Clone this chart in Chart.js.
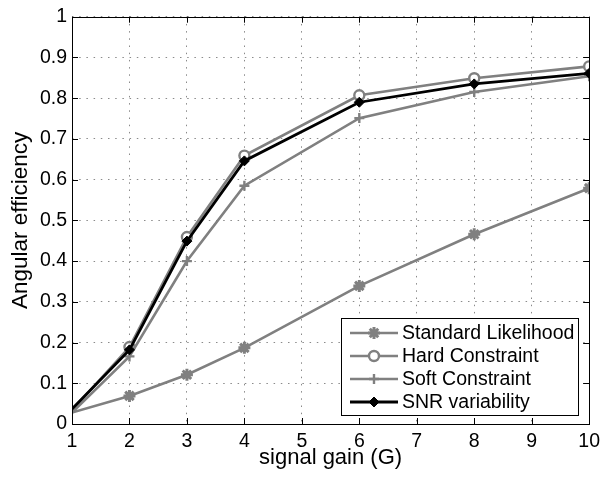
<!DOCTYPE html>
<html>
<head>
<meta charset="utf-8">
<script src="https://cdn.jsdelivr.net/npm/chart.js@4/dist/chart.umd.min.js"></script>
<style>
  html, body { margin: 0; padding: 0; background: #fff; }
  #wrap { width: 606px; height: 481px; }
</style>
</head>
<body>
<div id="wrap"><canvas id="effChart" width="606" height="481"></canvas></div>
<script>
/* Angular efficiency vs signal gain - MATLAB style figure */

const xValues = [1, 2, 3, 4, 6, 8, 10];
const standardLikelihood = [0.028, 0.069, 0.121, 0.187, 0.339, 0.466, 0.579];
const hardConstraint = [0.033, 0.189, 0.459, 0.659, 0.807, 0.849, 0.878];
const softConstraint = [0.028, 0.166, 0.4, 0.585, 0.751, 0.815, 0.854];
const snrVariability = [0.037, 0.182, 0.449, 0.646, 0.79, 0.835, 0.861];

const seriesNames = ['Standard Likelihood', 'Hard Constraint', 'Soft Constraint', 'SNR variability'];
const xTickLabels = ['1', '2', '3', '4', '5', '6', '7', '8', '9', '10'];
const yTickLabels = ['0', '0.1', '0.2', '0.3', '0.4', '0.5', '0.6', '0.7', '0.8', '0.9', '1'];

const FONT = '"Liberation Sans", Arial, Helvetica, sans-serif';
const GRAY = '#808080';

function pts(ys) {
  return xValues.map((x, i) => ({ x: x, y: ys[i] }));
}
// no marker on the first sample (it sits on the axis)
const markerSize = r => c => (c.raw && c.raw.x === xValues[0]) ? 0 : r;

const datasets = [
  { label: seriesNames[0], data: pts(standardLikelihood), borderColor: GRAY, borderWidth: 2.6,
    pointStyle: 'star', pointRadius: markerSize(6), legendRadius: 6, pointBorderColor: GRAY,
    pointBorderWidth: 3, pointBackgroundColor: GRAY, order: 4 },
  { label: seriesNames[1], data: pts(hardConstraint), borderColor: GRAY, borderWidth: 2.6,
    pointStyle: 'circle', pointRadius: markerSize(5), legendRadius: 5, pointBorderColor: GRAY,
    pointBorderWidth: 2.4, pointBackgroundColor: '#ffffff', order: 3 },
  { label: seriesNames[2], data: pts(softConstraint), borderColor: GRAY, borderWidth: 2.6,
    pointStyle: 'cross', pointRadius: markerSize(5), legendRadius: 5, pointBorderColor: GRAY,
    pointBorderWidth: 2.4, pointBackgroundColor: GRAY, order: 2 },
  { label: seriesNames[3], data: pts(snrVariability), borderColor: '#000000', borderWidth: 2.8,
    pointStyle: 'rectRot', pointRadius: markerSize(5), legendRadius: 5, pointBorderColor: '#000000',
    pointBorderWidth: 1, pointBackgroundColor: '#000000', order: 1 }
];

/* box, inward ticks and legend drawn like a MATLAB axes */
const matlabAxes = {
  id: 'matlabAxes',
  afterDatasetsDraw(chart) {
    const { ctx, chartArea: a, scales } = chart;
    ctx.save();
    ctx.strokeStyle = '#000';
    ctx.lineWidth = 1;
    ctx.strokeRect(Math.round(a.left) + 0.5, Math.round(a.top) + 0.5,
      Math.round(a.right - a.left), Math.round(a.bottom - a.top));
    const tl = 6;
    ctx.beginPath();
    scales.x.ticks.forEach(t => {
      const px = Math.round(scales.x.getPixelForValue(t.value)) + 0.5;
      ctx.moveTo(px, a.bottom); ctx.lineTo(px, a.bottom - tl);
      ctx.moveTo(px, a.top); ctx.lineTo(px, a.top + tl);
    });
    scales.y.ticks.forEach(t => {
      const py = Math.round(scales.y.getPixelForValue(t.value)) + 0.5;
      ctx.moveTo(a.left, py); ctx.lineTo(a.left + tl, py);
      ctx.moveTo(a.right, py); ctx.lineTo(a.right - tl, py);
    });
    ctx.stroke();

    // legend
    const w = 237, h = 97;
    const lx = Math.round(a.right - 11 - w), ly = Math.round(a.bottom - 9 - h);
    ctx.fillStyle = '#fff';
    ctx.fillRect(lx, ly, w, h);
    ctx.strokeRect(lx + 0.5, ly + 0.5, w, h);
    ctx.font = '19.5px ' + FONT;
    ctx.textBaseline = 'middle';
    ctx.textAlign = 'left';
    chart.data.datasets.forEach((ds, i) => {
      const y = ly + 15 + i * 23;
      ctx.strokeStyle = ds.borderColor;
      ctx.lineWidth = ds.borderWidth;
      ctx.beginPath();
      ctx.moveTo(lx + 9, y); ctx.lineTo(lx + 57, y);
      ctx.stroke();
      ctx.fillStyle = ds.pointBackgroundColor;
      ctx.strokeStyle = ds.pointBorderColor;
      ctx.lineWidth = ds.pointBorderWidth;
      Chart.helpers.drawPoint(ctx, {
        pointStyle: ds.pointStyle, radius: ds.legendRadius, rotation: 0,
        borderWidth: ds.pointBorderWidth
      }, lx + 33, y);
      ctx.fillStyle = '#000';
      ctx.fillText(ds.label, lx + 61, y + 1);
    });
    ctx.restore();
  }
};

new Chart(document.getElementById('effChart'), {
  type: 'line',
  data: { datasets },
  plugins: [matlabAxes],
  options: {
    responsive: false,
    animation: false,
    devicePixelRatio: 1,
    layout: { padding: { top: 14, right: 13, left: 0, bottom: 0 } },
    plugins: { legend: { display: false }, tooltip: { enabled: false } },
    elements: { line: { tension: 0 } },
    scales: {
      x: {
        type: 'linear', min: 1, max: 10,
        afterFit: s => { s.height = 57; },
        ticks: { stepSize: 1, padding: 6, color: '#000', font: { family: FONT, size: 19.5 },
          maxRotation: 0, callback: (v, i) => xTickLabels[i] },
        grid: { color: '#8a8a8a', lineWidth: 1, drawTicks: false },
        border: { display: false, dash: [1.5, 5.7] },
        title: { display: true, text: 'signal gain (G)', color: '#000',
          font: { family: FONT, size: 22 }, padding: { top: 0, bottom: 10 } }
      },
      y: {
        type: 'linear', min: 0, max: 1,
        afterFit: s => { s.width = 72; },
        ticks: { stepSize: 0.1, padding: 5, color: '#000', font: { family: FONT, size: 19.5 },
          callback: (v, i) => yTickLabels[i] },
        grid: { color: '#8a8a8a', lineWidth: 1, drawTicks: false },
        border: { display: false, dash: [1.5, 5.7] },
        title: { display: true, text: 'Angular efficiency', color: '#000',
          font: { family: FONT, size: 22.5 }, padding: { top: 7, bottom: 0 } }
      }
    }
  }
});
</script>
</body>
</html>
